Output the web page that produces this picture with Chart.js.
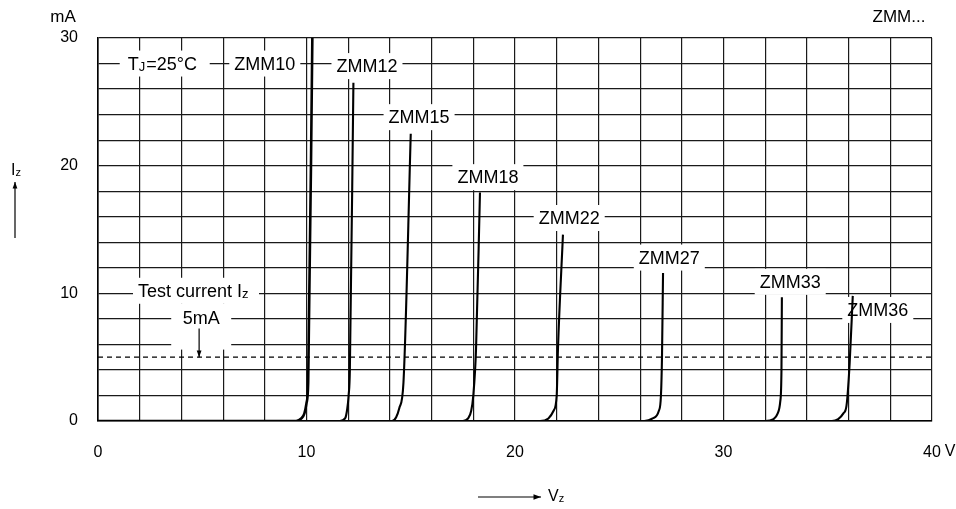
<!DOCTYPE html>
<html>
<head>
<meta charset="utf-8">
<script src="https://cdn.jsdelivr.net/npm/chart.js@4"></script>
<style>
  body { margin: 0; background: #fff; }
</style>
</head>
<body>
<canvas id="zener-chart" width="956" height="509"></canvas>
<script>
// tick labels shown on the axes (grid is every 2 V / 2 mA)
const xTickLabels = [0, 10, 20, 30, 40];
const yTickLabels = [0, 10, 20, 30];
const testCurrent = 5;

const diodeNames = ['ZMM10', 'ZMM12', 'ZMM15', 'ZMM18', 'ZMM22', 'ZMM27', 'ZMM33', 'ZMM36'];

// Vz (V) and Iz (mA)
const zmm10V = [0, 9.5, 9.75, 9.9, 10.0, 10.08, 10.28];
const zmm10I = [0, 0, 0.2, 0.6, 1.4, 3, 30];
const zmm12V = [0, 11.6, 11.85, 11.95, 12.02, 12.08, 12.25];
const zmm12I = [0, 0, 0.2, 0.9, 2, 4, 26.5];
const zmm15V = [0, 14.1, 14.3, 14.45, 14.65, 15.0];
const zmm15I = [0, 0, 0.3, 1, 3, 22.5];
const zmm18V = [0, 17.5, 17.75, 17.9, 18.0, 18.13, 18.32];
const zmm18I = [0, 0, 0.2, 0.8, 2, 5.6, 17.9];
const zmm22V = [0, 21.2, 21.6, 21.85, 22.0, 22.06, 22.3];
const zmm22I = [0, 0, 0.2, 0.8, 2, 5.6, 14.6];
const zmm27V = [0, 26.2, 26.6, 26.9, 27.0, 27.05, 27.1];
const zmm27I = [0, 0, 0.2, 0.8, 2, 5, 11.6];
const zmm33V = [0, 32.0, 32.4, 32.6, 32.72, 32.78, 32.8];
const zmm33I = [0, 0, 0.15, 0.6, 1.5, 4, 9.7];
const zmm36V = [0, 35.2, 35.5, 35.75, 35.9, 36.05, 36.2];
const zmm36I = [0, 0, 0.15, 0.6, 1.2, 4.5, 9.8];

const curves = [
  [zmm10V, zmm10I], [zmm12V, zmm12I], [zmm15V, zmm15I], [zmm18V, zmm18I],
  [zmm22V, zmm22I], [zmm27V, zmm27I], [zmm33V, zmm33I], [zmm36V, zmm36I]
];

const FONT = '"Liberation Sans", Arial, sans-serif';

const datasets = curves.map(([v, i], k) => ({
  label: diodeNames[k],
  data: v.map((x, j) => ({ x, y: i[j] })),
  borderColor: '#000',
  borderWidth: k === 0 ? 2.6 : 2.1,
  pointRadius: 0,
  cubicInterpolationMode: 'monotone',
  fill: false
}));

datasets.push({
  label: 'test current',
  data: [{ x: 0, y: testCurrent }, { x: 40, y: testCurrent }],
  borderColor: '#000',
  borderWidth: 1.1,
  borderDash: [5, 4],
  pointRadius: 0
});

// label anchors in data units (V, mA)
const labelSpots = [
  ['ZMM10', 8.0, 28.0], ['ZMM12', 12.9, 27.8], ['ZMM15', 15.4, 23.8],
  ['ZMM18', 18.7, 19.1], ['ZMM22', 22.6, 15.9], ['ZMM27', 27.4, 12.8],
  ['ZMM33', 33.2, 10.9], ['ZMM36', 37.4, 8.7]
];

function whiteBox(ctx, cx, cy, w, h) {
  ctx.fillStyle = '#fff';
  ctx.fillRect(cx - w / 2, cy - h / 2, w, h);
}

function arrow(ctx, x1, y1, x2, y2, head) {
  ctx.beginPath();
  ctx.moveTo(x1, y1);
  ctx.lineTo(x2, y2);
  ctx.stroke();
  const a = Math.atan2(y2 - y1, x2 - x1);
  ctx.beginPath();
  ctx.moveTo(x2, y2);
  ctx.lineTo(x2 - head * Math.cos(a - 0.35), y2 - head * Math.sin(a - 0.35));
  ctx.lineTo(x2 - head * Math.cos(a + 0.35), y2 - head * Math.sin(a + 0.35));
  ctx.closePath();
  ctx.fill();
}

// draws main text followed by a smaller subscript, left aligned at x
function subText(ctx, main, sub, x, y, size) {
  ctx.textAlign = 'left';
  ctx.textBaseline = 'middle';
  ctx.font = size + 'px ' + FONT;
  ctx.fillText(main, x, y);
  const w = ctx.measureText(main).width;
  ctx.font = Math.round(size * 0.7) + 'px ' + FONT;
  ctx.fillText(sub, x + w, y + size * 0.15);
  return w + ctx.measureText(sub).width;
}

const overlay = {
  id: 'overlay',
  beforeDatasetsDraw(chart) {
    const ctx = chart.ctx;
    const xs = chart.scales.x, ys = chart.scales.y;
    ctx.save();
    ctx.fillStyle = '#000';
    ctx.font = '18px ' + FONT;
    labelSpots.forEach(([t, v, i]) => {
      const px = xs.getPixelForValue(v), py = ys.getPixelForValue(i);
      const w = ctx.measureText(t).width;
      whiteBox(ctx, px, py, w + 10, 26);
      ctx.fillStyle = '#000';
      ctx.font = '18px ' + FONT;
      ctx.textAlign = 'center';
      ctx.textBaseline = 'middle';
      ctx.fillText(t, px, py + 1);
    });

    // Tj = 25 °C
    let px = xs.getPixelForValue(3.2), py = ys.getPixelForValue(28);
    whiteBox(ctx, px, py, 90, 26);
    ctx.fillStyle = '#000';
    let x0 = px - 37;
    const wT = subText(ctx, 'T', 'J', x0, py + 1, 18);
    ctx.font = '18px ' + FONT;
    ctx.fillText('=25\u00B0C', x0 + wT + 1, py + 1);

    // Test current Iz / 5mA
    px = xs.getPixelForValue(4.7); py = ys.getPixelForValue(10.2);
    whiteBox(ctx, px, py, 126, 26);
    ctx.fillStyle = '#000';
    ctx.font = '18px ' + FONT;
    const wt = ctx.measureText('Test current ').width;
    x0 = px - 58;
    ctx.textAlign = 'left';
    ctx.textBaseline = 'middle';
    ctx.fillText('Test current ', x0, py + 1);
    subText(ctx, 'I', 'z', x0 + wt, py + 1, 18);

    px = xs.getPixelForValue(4.95); py = ys.getPixelForValue(8.1);
    whiteBox(ctx, px, py + 9, 60, 46);
    ctx.fillStyle = '#000';
    ctx.font = '18px ' + FONT;
    ctx.textAlign = 'center';
    ctx.fillText('5mA', px, py + 1);
    ctx.strokeStyle = '#000';
    ctx.lineWidth = 1.2;
    const ax = xs.getPixelForValue(4.85);
    arrow(ctx, ax, py + 11, ax, ys.getPixelForValue(testCurrent), 7);
    ctx.restore();
  },
  afterDraw(chart) {
    const ctx = chart.ctx;
    ctx.save();
    ctx.fillStyle = '#000';
    ctx.strokeStyle = '#000';
    ctx.font = '17px ' + FONT;
    ctx.textBaseline = 'middle';
    ctx.textAlign = 'center';
    ctx.fillText('mA', 63, 17);
    ctx.fillText('ZMM...', 899, 17);
    ctx.font = '16px ' + FONT;
    ctx.fillText('V', 950, 452);

    // y title: Iz with arrow up
    subText(ctx, 'I', 'z', 11, 171, 16);
    ctx.lineWidth = 1.2;
    arrow(ctx, 15, 238, 15, 182, 7);

    // x title: arrow then Vz
    arrow(ctx, 478, 497, 541, 497, 8);
    subText(ctx, 'V', 'z', 548, 497, 16);
    ctx.restore();
  }
};

new Chart(document.getElementById('zener-chart'), {
  type: 'line',
  data: { datasets },
  plugins: [overlay],
  options: {
    responsive: false,
    animation: false,
    devicePixelRatio: 1,
    layout: { padding: { top: 38, right: 24, left: 0, bottom: 0 } },
    plugins: { legend: { display: false }, tooltip: { enabled: false } },
    scales: {
      x: {
        type: 'linear',
        min: 0,
        max: 40,
        afterFit: s => { s.height = 88; s.paddingLeft = 0; s.paddingRight = 0; },
        ticks: {
          stepSize: 2,
          autoSkip: false,
          maxRotation: 0,
          padding: 22,
          color: '#000',
          font: { family: FONT, size: 16 },
          callback: v => xTickLabels.includes(v) ? String(v) : ''
        },
        grid: { color: '#1a1a1a', lineWidth: 1.2, drawTicks: false },
        border: { color: '#000', width: 1.6 }
      },
      y: {
        min: 0,
        max: 30,
        afterFit: s => { s.width = 98; },
        ticks: {
          stepSize: 2,
          autoSkip: false,
          padding: 20,
          color: '#000',
          font: { family: FONT, size: 16 },
          callback: v => yTickLabels.includes(v) ? String(v) : ''
        },
        grid: { color: '#1a1a1a', lineWidth: 1.2, drawTicks: false },
        border: { color: '#000', width: 1.6 }
      }
    }
  }
});
</script>
</body>
</html>
